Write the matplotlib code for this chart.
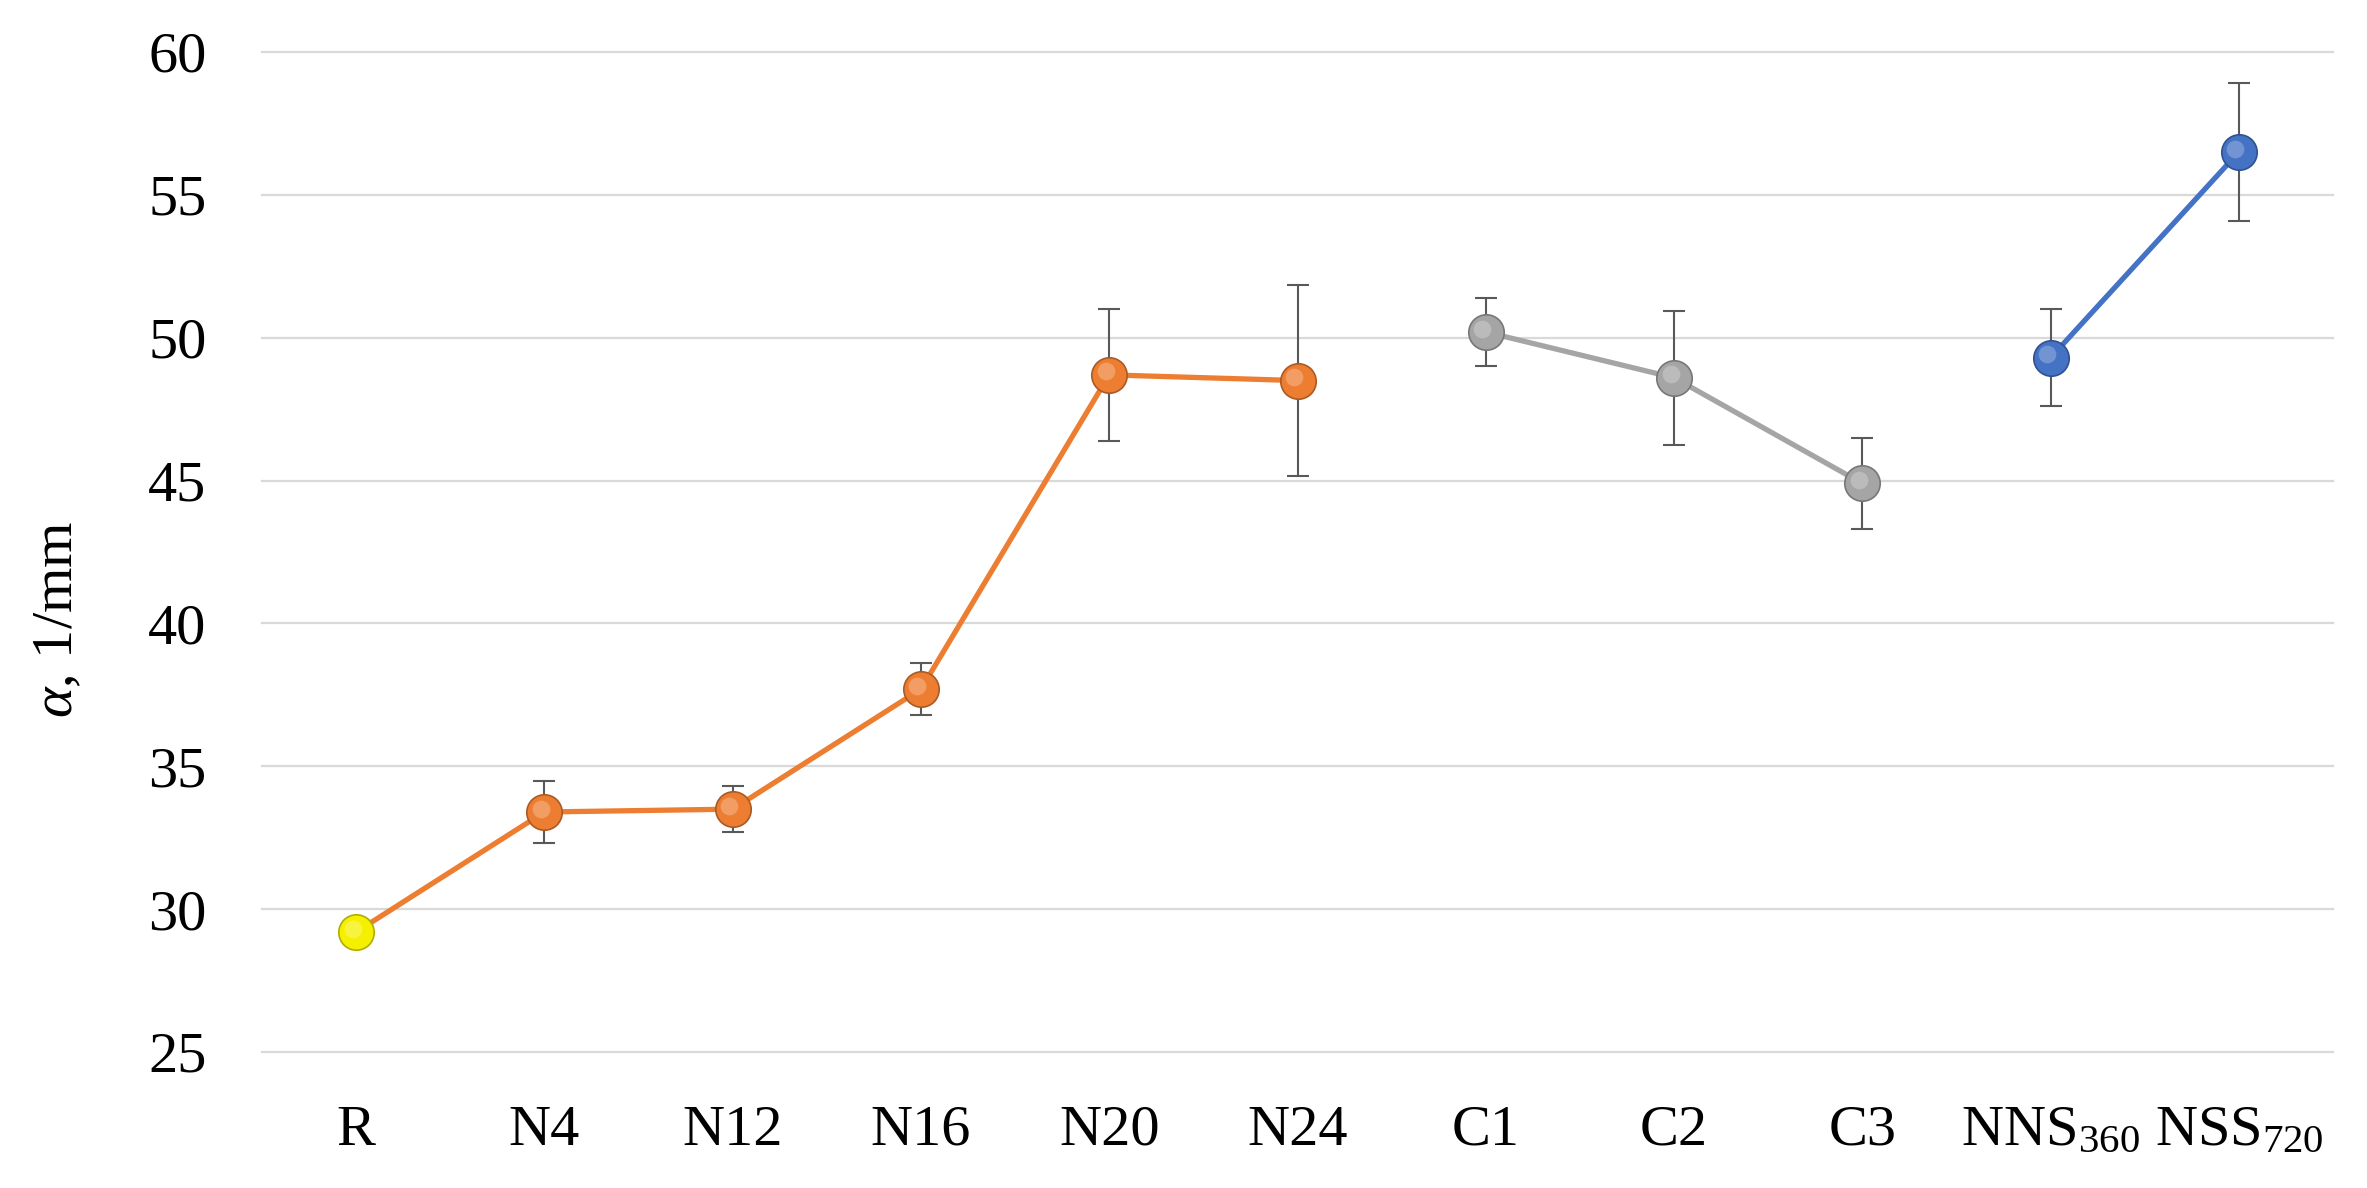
import matplotlib
matplotlib.use('Agg')
import matplotlib.pyplot as plt
from matplotlib import transforms
import matplotlib.colors as mcolors
import numpy as np

# ---- data ----
categories = ['R', 'N4', 'N12', 'N16', 'N20', 'N24', 'C1', 'C2', 'C3',
              r'NNS$_{\mathrm{360}}$', r'NSS$_{\mathrm{720}}$']

n_pos = [0, 1, 2, 3, 4, 5]
n_vals = [29.2, 33.4, 33.5, 37.7, 48.7, 48.5]
n_err = [0.0, 1.1, 0.8, 0.9, 2.3, 3.35]

c_pos = [6, 7, 8]
c_vals = [50.2, 48.6, 44.9]
c_err = [1.2, 2.35, 1.6]

s_pos = [9, 10]
s_vals = [49.3, 56.5]
s_err = [1.7, 2.4]

yticks = [25, 30, 35, 40, 45, 50, 55, 60]
ylabel = r'$\alpha$, 1/mm'

# ---- style ----
plt.rcParams['font.family'] = ['Liberation Serif', 'DejaVu Serif']
plt.rcParams['mathtext.fontset'] = 'custom'
plt.rcParams['mathtext.rm'] = 'Liberation Serif'
plt.rcParams['mathtext.it'] = 'Liberation Serif:italic'

W, H, DPI = 2367, 1188, 100
fig = plt.figure(figsize=(W / DPI, H / DPI), dpi=DPI)
ax = fig.add_axes([262 / W, 1 - 1052 / H, (2333 - 262) / W, 1000 / H])

ORANGE = '#ED7D31'
GRAY = '#A5A5A5'
BLUE = '#4472C4'
YELLOW = '#F5F000'
ERRC = '#595959'

def sphere(ax, xs, ys, color, ms=25.5):
    base = np.array(mcolors.to_rgb(color))
    dark = base * 0.72
    light = base + (1 - base) * 0.45
    ax.plot(xs, ys, 'o', ms=ms, mfc=color, mec=dark, mew=1.2, zorder=5, clip_on=False)
    off = transforms.ScaledTranslation(-2.5 / 72, 2.5 / 72, fig.dpi_scale_trans)
    ax.plot(xs, ys, 'o', ms=ms * 0.5, mfc=light, mec='none', alpha=0.55,
            transform=ax.transData + off, zorder=6, clip_on=False)

def series(pos, vals, err, color):
    ax.plot(pos, vals, '-', color=color, lw=3.8, zorder=3, solid_capstyle='round')
    ax.errorbar(pos, vals, yerr=err, fmt='none', ecolor=ERRC, elinewidth=1.5,
                capsize=8, capthick=1.5, zorder=4)

series(n_pos, n_vals, n_err, ORANGE)
series(c_pos, c_vals, c_err, GRAY)
series(s_pos, s_vals, s_err, BLUE)

sphere(ax, [n_pos[0]], [n_vals[0]], YELLOW)
sphere(ax, n_pos[1:], n_vals[1:], ORANGE)
sphere(ax, c_pos, c_vals, GRAY)
sphere(ax, s_pos, s_vals, BLUE)

ax.set_xlim(-0.5, len(categories) - 0.5)
ax.set_ylim(25, 60)
ax.set_yticks(yticks)
ax.set_xticks(range(len(categories)))
ax.set_xticklabels(categories)
ax.grid(axis='y', color='#D9D9D9', lw=1.6)
for gl in ax.get_ygridlines():
    gl.set_clip_on(False)
ax.set_axisbelow(True)
for sp in ax.spines.values():
    sp.set_visible(False)
ax.tick_params(axis='both', length=0, labelsize=42, colors='black')
ax.tick_params(axis='y', pad=40)
ax.tick_params(axis='x', pad=38)
ax.set_ylabel(ylabel, fontsize=42)
ax.yaxis.set_label_coords(-0.086, 0.433)

fig.savefig('out.png', dpi=DPI, facecolor='white')
